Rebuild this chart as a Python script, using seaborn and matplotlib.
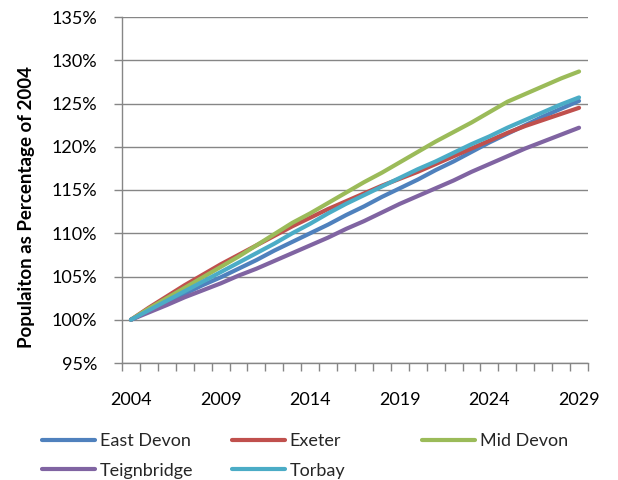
import matplotlib
matplotlib.use("Agg")
import matplotlib.pyplot as plt
from matplotlib.ticker import FixedLocator, FuncFormatter
import seaborn as sns
import pandas as pd

years = list(range(2004, 2030))
east_devon = [100.0, 101.0, 102.0, 103.0, 104.0, 104.9, 105.9, 106.9, 108.0, 109.0,
              110.0, 111.0, 112.1, 113.1, 114.2, 115.2, 116.2, 117.3, 118.3, 119.4,
              120.5, 121.5, 122.5, 123.5, 124.4, 125.3]
exeter = [100.0, 101.4, 102.7, 104.0, 105.2, 106.4, 107.5, 108.6, 109.7, 110.8,
          111.8, 112.8, 113.7, 114.6, 115.5, 116.3, 117.1, 118.0, 118.9, 119.8,
          120.7, 121.6, 122.4, 123.1, 123.8, 124.5]
mid_devon = [100.0, 101.3, 102.5, 103.7, 104.9, 106.1, 107.3, 108.6, 109.9, 111.2,
             112.3, 113.5, 114.7, 115.9, 117.0, 118.2, 119.4, 120.6, 121.7, 122.8,
             124.0, 125.2, 126.1, 127.0, 127.9, 128.7]
teignbridge = [100.0, 100.85, 101.7, 102.6, 103.4, 104.2, 105.1, 105.9, 106.8, 107.7,
               108.6, 109.5, 110.5, 111.4, 112.4, 113.4, 114.3, 115.2, 116.1, 117.1,
               118.0, 118.9, 119.8, 120.6, 121.4, 122.2]
torbay = [100.0, 101.1, 102.2, 103.3, 104.4, 105.5, 106.6, 107.7, 108.8, 110.0,
          111.1, 112.3, 113.4, 114.4, 115.4, 116.4, 117.4, 118.3, 119.3, 120.3,
          121.2, 122.2, 123.1, 124.0, 124.9, 125.7]

series_names = ["East Devon", "Exeter", "Mid Devon", "Teignbridge", "Torbay"]
series_values = [east_devon, exeter, mid_devon, teignbridge, torbay]
colors = ["#4F81BD", "#C0504D", "#9BBB59", "#8064A2", "#4BACC6"]
y_ticks = [95, 100, 105, 110, 115, 120, 125, 130, 135]
x_label_years = [2004, 2009, 2014, 2019, 2024, 2029]

rows = []
for name, vals in zip(series_names, series_values):
    for y, v in zip(years, vals):
        rows.append({"Year": y, "Value": v, "Area": name})
df = pd.DataFrame(rows)

sns.set_theme(style="white")
plt.rcParams["font.family"] = ["Lato", "DejaVu Sans"]

fig = plt.figure(figsize=(6.18, 4.8), dpi=100)
ax = fig.add_axes([122/618, 1-363/480, (588-122)/618, (363-17)/480])

sns.lineplot(data=df, x="Year", y="Value", hue="Area", hue_order=series_names,
             palette=colors, linewidth=3.0, ax=ax, legend=False,
             solid_capstyle="round")

grey = "#868686"
ax.set_xlim(years[0]-0.5, years[-1]+0.5)
ax.set_ylim(y_ticks[0], y_ticks[-1])
ax.yaxis.set_major_locator(FixedLocator(y_ticks))
ax.yaxis.set_major_formatter(FuncFormatter(lambda v, p: f"{int(round(v))}%"))
ax.xaxis.set_major_locator(FixedLocator(x_label_years))
ax.xaxis.set_minor_locator(FixedLocator([y - 0.5 for y in years] + [years[-1] + 0.5]))
ax.tick_params(axis="x", which="major", length=0, pad=21, labelsize=13, labelcolor="black")
ax.tick_params(axis="x", which="minor", length=6, width=1, color=grey, direction="out", bottom=True)
ax.tick_params(axis="y", which="major", length=6, width=1, color=grey, direction="out",
               left=True, pad=12, labelsize=13, labelcolor="black")
ax.grid(axis="y", color=grey, linewidth=1.0)
ax.set_axisbelow(True)
for side in ["top", "right"]:
    ax.spines[side].set_visible(False)
for side in ["left", "bottom"]:
    ax.spines[side].set_color(grey)
    ax.spines[side].set_linewidth(1.0)
ax.set_xlabel("")
ax.set_ylabel("")
fig.text(27/618, 1-207/480, "Populaiton as Percentage of 2004", rotation=90,
         ha="center", va="center", fontsize=13.5, fontweight="bold", color="black")

lines = ax.get_lines()
handles = {name: ln for name, ln in zip(series_names, lines)}
col_groups = [["East Devon", "Teignbridge"], ["Exeter", "Torbay"], ["Mid Devon"]]
col_x = [42/618, 232/618, 422/618]
for group, cx in zip(col_groups, col_x):
    fig.legend([handles[n] for n in group], group, loc="upper left",
               bbox_to_anchor=(cx, 1-433/480), frameon=False, fontsize=13,
               handlelength=2.95, handletextpad=0.25, labelspacing=0.75,
               borderaxespad=0, borderpad=0)

fig.savefig("out.png", dpi=100)
